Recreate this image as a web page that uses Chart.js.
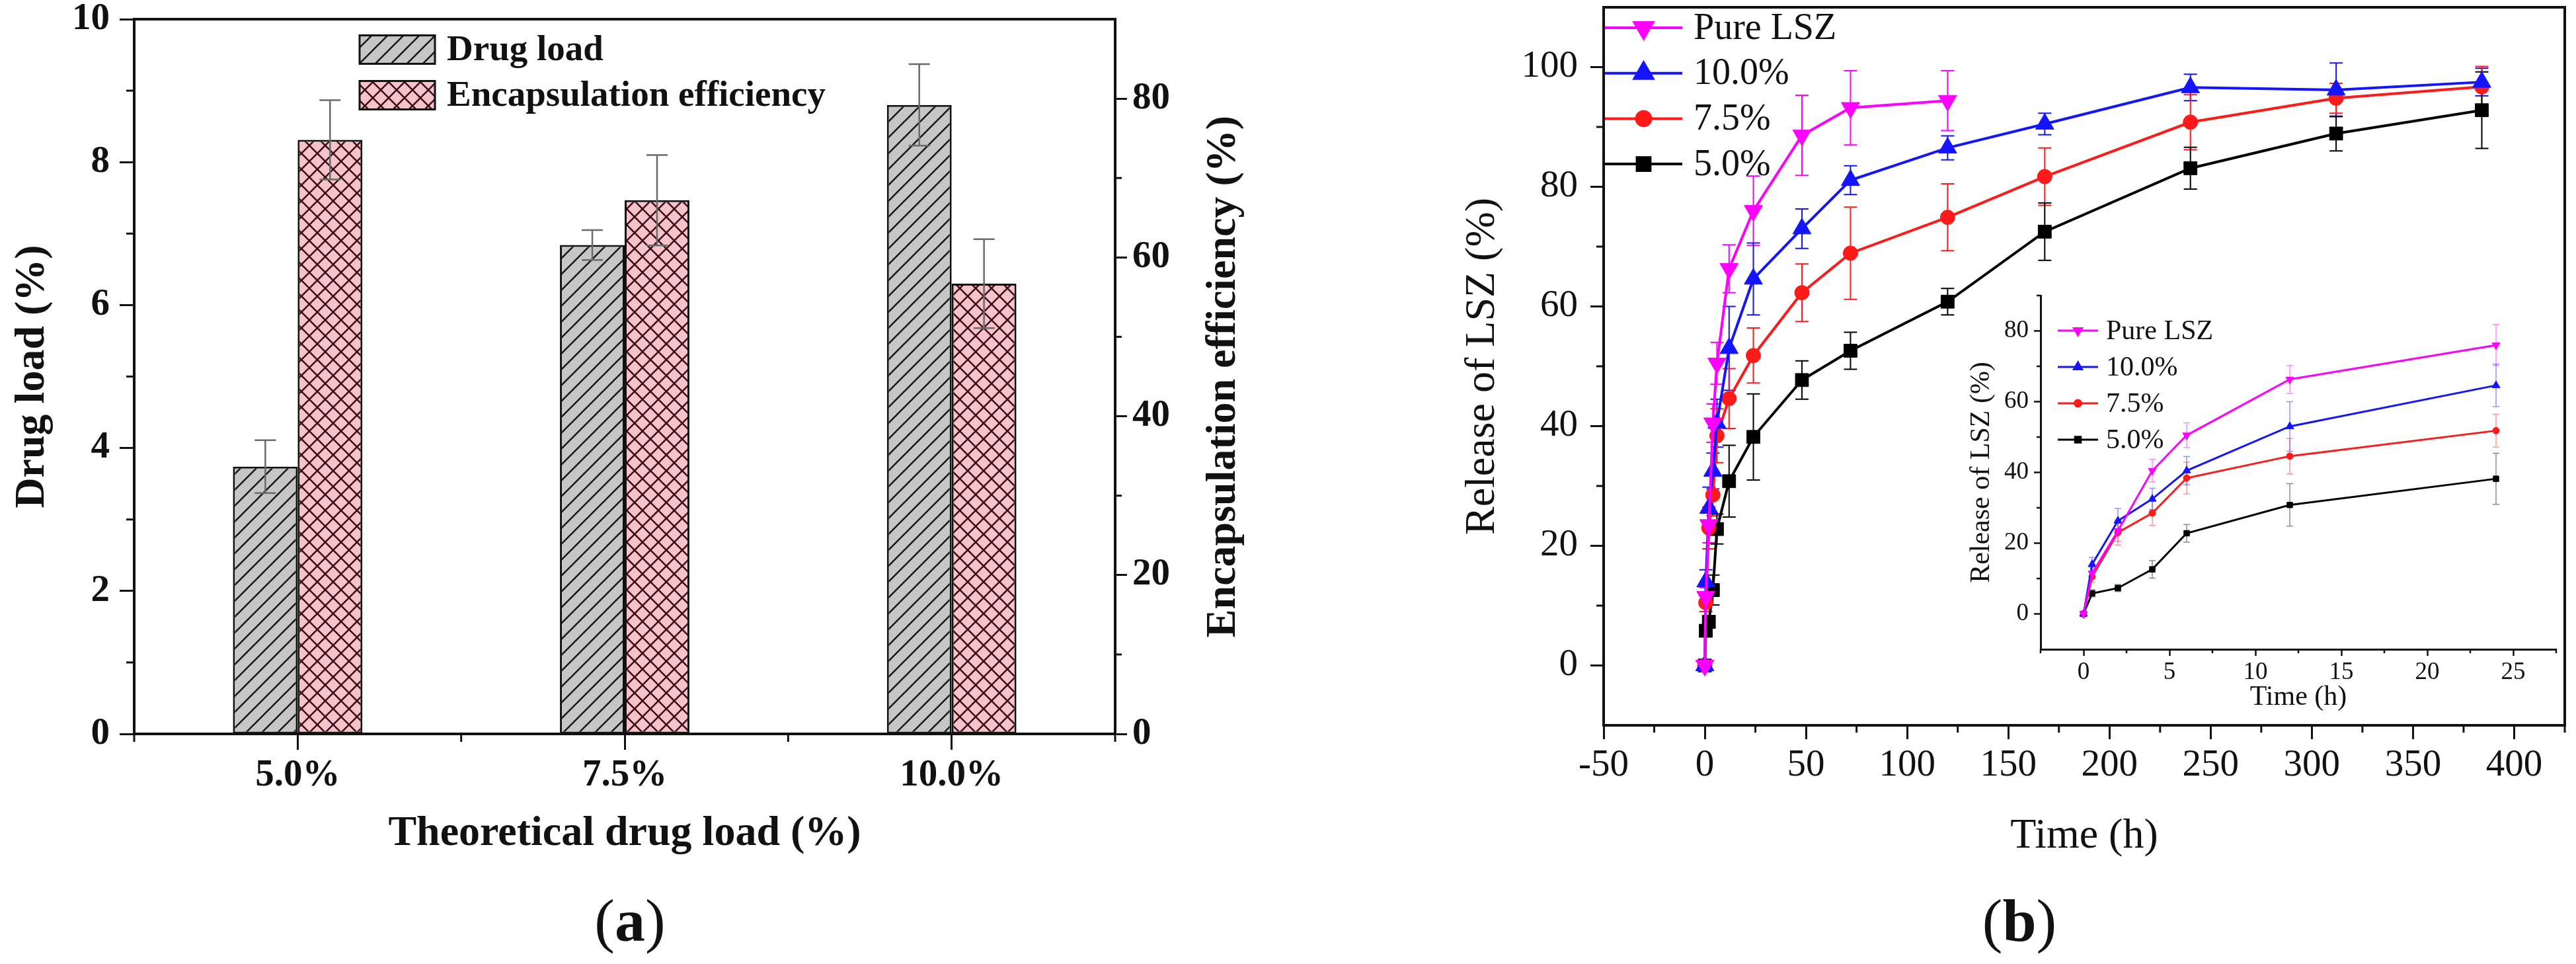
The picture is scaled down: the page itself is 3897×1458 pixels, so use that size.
<!DOCTYPE html>
<html>
<head>
<meta charset="utf-8">
<title>LSZ drug load and release</title>
<script src="https://cdn.jsdelivr.net/npm/chart.js@4.4.1/dist/chart.umd.min.js"></script>
<style>
  html, body { margin: 0; padding: 0; background: #fff; }
  body { width: 3897px; height: 1458px; position: relative; overflow: hidden; }
  canvas { position: absolute; }
  .tag { position: absolute; font-family: 'Liberation Serif', 'Times New Roman', serif; font-size: 92px;
         line-height: 1; transform: translate(-50%, -50%); color: #111; white-space: nowrap; }
</style>
</head>
<body>
<canvas id="chartA" width="1950" height="1380" style="left:0;top:-80px"></canvas>
<canvas id="chartB" width="1947" height="1410" style="left:1950px;top:-80px"></canvas>
<canvas id="chartInset" width="1000" height="700" style="left:2900px;top:380px"></canvas>
<div class="tag" style="left:953px;top:1392px">(<b>a</b>)</div>
<div class="tag" style="left:3055px;top:1392px">(<b>b</b>)</div>
<script>
/* (a) drug load and encapsulation efficiency */
const LOAD_LABELS = ['5.0%', '7.5%', '10.0%'];
const DRUG_LOAD = [3.74, 6.84, 8.80];
const DRUG_LOAD_ERR = [0.37, 0.21, 0.57];
const ENCAP_EFF = [74.8, 67.2, 56.7];
const ENCAP_EFF_ERR = [5.0, 5.7, 5.6];
const A_LOAD_TICKS = [0, 2, 4, 6, 8, 10];
const A_LOAD_MINOR = [1, 3, 5, 7, 9];
const A_EFF_TICKS = [0, 20, 40, 60, 80];
const A_EFF_MINOR = [10, 30, 50, 70];
const A_X_MINOR = [-0.5, 0.5, 1.5, 2.5];

/* (b) cumulative release of LSZ */
const TIMES = [0, 0.5, 2, 4, 6, 12, 24, 48, 72, 120, 168, 240, 312, 384];
const SERIES_LABELS = ['Pure LSZ', '10.0%', '7.5%', '5.0%'];
const PURE_LSZ = [0, 11.5, 23.5, 40.5, 50.5, 66.3, 76.0, 88.6, 93.2, 94.4];
const PURE_LSZ_ERR = [0, 1.5, 3, 3.2, 3.5, 4, 5.8, 6.7, 6.2, 5];
const LOAD_100 = [0, 14.0, 26.3, 32.5, 40.5, 53.0, 64.6, 73.0, 81.1, 86.5, 90.5, 96.6, 96.2, 97.5];
const LOAD_100_ERR = [0, 2, 3.5, 3, 4, 7, 6, 3.3, 2.4, 2, 1.8, 2.2, 4.5, 2.3];
const LOAD_75 = [0, 10.5, 23.0, 28.5, 38.4, 44.6, 51.8, 62.3, 68.9, 74.9, 81.7, 90.8, 94.8, 96.7];
const LOAD_75_ERR = [0, 1.5, 3.5, 3.5, 4.5, 5, 4.6, 4.8, 7.7, 5.6, 4.8, 4.6, 2.5, 3.4];
const LOAD_50 = [0, 5.8, 7.3, 12.6, 22.8, 30.8, 38.2, 47.7, 52.6, 60.8, 72.5, 83.1, 88.9, 92.8];
const LOAD_50_ERR = [0, 1, 1, 2.5, 2.5, 6, 7.2, 3.2, 3.1, 2.2, 4.8, 3.5, 2.9, 6.4];
const SERIES_VALUES = [PURE_LSZ, LOAD_100, LOAD_75, LOAD_50];
const SERIES_ERRORS = [PURE_LSZ_ERR, LOAD_100_ERR, LOAD_75_ERR, LOAD_50_ERR];
const B_X_TICKS = [-50, 0, 50, 100, 150, 200, 250, 300, 350, 400];
const B_X_MINOR = [-25, 25, 75, 125, 175, 225, 275, 325, 375, 425];
const B_Y_TICKS = [0, 20, 40, 60, 80, 100];
const B_Y_MINOR = [10, 30, 50, 70, 90];
const INSET_MAX_TIME = 24;
const I_X_TICKS = [0, 5, 10, 15, 20, 25];
const I_X_MINOR = [-2.5, 2.5, 7.5, 12.5, 17.5, 22.5, 27.5];
const I_Y_TICKS = [0, 20, 40, 60, 80];
const I_Y_MINOR = [10, 30, 50, 70, 90];

const SERIF = "'Liberation Serif', 'Times New Roman', serif";
const INK = '#111';
const SERIES_STYLE = [
    { color: '#ff00ff', point: 'triangle', rot: 180, r: 16, ri: 7 },
    { color: '#1414ff', point: 'triangle', rot: 0, r: 16, ri: 7 },
    { color: '#ff1a1a', point: 'circle', rot: 0, r: 11, ri: 5 },
    { color: '#000000', point: 'rect', rot: 0, r: 14, ri: 6 }
];

Chart.defaults.font.family = SERIF;
Chart.defaults.color = INK;
Chart.defaults.animation = false;

function font(size, bold) {
    return { family: SERIF, size, weight: bold ? 'bold' : 'normal', lineHeight: 1.2 };
}

function axis(o) {
    const horizontal = o.position === 'bottom';
    return {
        type: o.type || 'linear',
        position: o.position,
        min: o.min, max: o.max,
        offset: !!o.offset,
        afterFit: s => { if (horizontal) s.height = o.size; else s.width = o.size; },
        afterBuildTicks: o.ticks ? s => { s.ticks = o.ticks.map(v => ({ value: v })); } : undefined,
        border: { display: true, color: INK, width: o.lineWidth },
        grid: { display: true, drawOnChartArea: false, drawTicks: true, offset: false,
                tickLength: o.tickLength, tickWidth: o.tickWidth, tickColor: INK },
        ticks: { font: o.tickFont, color: INK, padding: o.tickPad, maxRotation: 0, autoSkip: false },
        title: { display: !!o.title, text: o.title, font: o.titleFont, color: INK, padding: o.titlePad }
    };
}

// hatch fill for the bars
function hatch(canvasId, bg, line, size, cross) {
    const tile = document.createElement('canvas');
    tile.width = tile.height = size;
    const g = tile.getContext('2d');
    g.fillStyle = bg;
    g.fillRect(0, 0, size, size);
    g.strokeStyle = line;
    g.lineWidth = 2.6;
    const seg = (x0, y0, x1, y1) => { g.beginPath(); g.moveTo(x0, y0); g.lineTo(x1, y1); g.stroke(); };
    seg(-2, size + 2, size + 2, -2);
    seg(-2, 2, 2, -2);
    seg(size - 2, size + 2, size + 2, size - 2);
    if (cross) {
        seg(-2, -2, size + 2, size + 2);
        seg(size - 2, -2, size + 2, 2);
        seg(-2, size - 2, 2, size + 2);
    }
    return document.getElementById(canvasId).getContext('2d').createPattern(tile, 'repeat');
}

// minor ticks, frame lines and a bottom-to-top right title
const axisExtras = {
    id: 'axisExtras',
    afterDraw(chart, args, opts) {
        const ctx = chart.ctx;
        const a = chart.chartArea;
        ctx.save();
        ctx.strokeStyle = INK;
        (opts.minor || []).forEach(m => {
            const s = chart.scales[m.axis];
            ctx.lineWidth = opts.tickWidth;
            m.values.forEach(v => {
                const p = s.getPixelForValue(v);
                ctx.beginPath();
                if (s.position === 'left') { ctx.moveTo(a.left, p); ctx.lineTo(a.left - m.length, p); }
                else if (s.position === 'right') { ctx.moveTo(a.right, p); ctx.lineTo(a.right + m.length, p); }
                else { ctx.moveTo(p, a.bottom); ctx.lineTo(p, a.bottom + m.length); }
                ctx.stroke();
            });
        });
        if (opts.frame) {
            const w = opts.frame.width;
            ctx.lineWidth = w;
            ctx.beginPath();
            ctx.moveTo(a.left - w / 2, a.top);
            ctx.lineTo(a.right + w / 2, a.top);
            if (opts.frame.right) {
                ctx.moveTo(a.right, a.top);
                ctx.lineTo(a.right, a.bottom + w / 2);
            }
            ctx.stroke();
        }
        if (opts.sideTitle) {
            const t = opts.sideTitle;
            ctx.translate(t.x, (a.top + a.bottom) / 2);
            ctx.rotate(-Math.PI / 2);
            ctx.fillStyle = INK;
            ctx.font = `${t.bold ? 'bold ' : ''}${t.size}px ${SERIF}`;
            ctx.textAlign = 'center';
            ctx.textBaseline = 'middle';
            ctx.fillText(t.text, 0, 0);
        }
        ctx.restore();
    }
};

function drawErrors(chart, o) {
    const ctx = chart.ctx;
    ctx.save();
    ctx.lineWidth = o.lineWidth;
    ctx.globalAlpha = o.alpha || 1;
    chart.data.datasets.forEach((ds, di) => {
        if (!ds.errors) return;
        const meta = chart.getDatasetMeta(di);
        const ys = chart.scales[meta.yAxisID];
        ctx.strokeStyle = o.color || ds.borderColor;
        meta.data.forEach((el, i) => {
            const raw = ds.data[i];
            const v = typeof raw === 'object' ? raw.y : raw;
            const e = ds.errors[i];
            if (!e) return;
            const top = ys.getPixelForValue(v + e);
            const bot = ys.getPixelForValue(v - e);
            const h = o.capWidth / 2;
            ctx.beginPath();
            ctx.moveTo(el.x, top); ctx.lineTo(el.x, bot);
            ctx.moveTo(el.x - h, top); ctx.lineTo(el.x + h, top);
            ctx.moveTo(el.x - h, bot); ctx.lineTo(el.x + h, bot);
            ctx.stroke();
        });
    });
    ctx.restore();
}

const errorBars = {
    id: 'errorBars',
    beforeDatasetsDraw(chart, args, o) { if (o.under) drawErrors(chart, o); },
    afterDatasetsDraw(chart, args, o) { if (!o.under) drawErrors(chart, o); }
};

// legend drawn inside the plot area
const innerLegend = {
    id: 'innerLegend',
    afterDraw(chart, args, o) {
        const ctx = chart.ctx;
        ctx.save();
        chart.data.datasets.forEach((ds, i) => {
            const y = o.y + i * o.rowGap;
            if (o.kind === 'box') {
                ctx.fillStyle = ds.backgroundColor;
                ctx.fillRect(o.x, y - o.boxH / 2, o.boxW, o.boxH);
                ctx.strokeStyle = ds.borderColor;
                ctx.lineWidth = ds.borderWidth;
                ctx.strokeRect(o.x, y - o.boxH / 2, o.boxW, o.boxH);
            } else {
                ctx.strokeStyle = ds.borderColor;
                ctx.lineWidth = ds.borderWidth;
                ctx.beginPath();
                ctx.moveTo(o.x, y);
                ctx.lineTo(o.x + o.lineLen, y);
                ctx.stroke();
                ctx.fillStyle = ds.pointBackgroundColor;
                ctx.strokeStyle = ds.pointBorderColor;
                Chart.helpers.drawPoint(ctx, {
                    pointStyle: ds.pointStyle, rotation: ds.pointRotation,
                    radius: ds.pointRadius, borderWidth: ds.pointBorderWidth
                }, o.x + o.lineLen / 2, y);
            }
            ctx.fillStyle = INK;
            ctx.font = `${o.bold ? 'bold ' : ''}${o.size}px ${SERIF}`;
            ctx.textAlign = 'left';
            ctx.textBaseline = 'middle';
            ctx.fillText(ds.label, o.textX, y + 2);
        });
        ctx.restore();
    }
};

/* ---------- panel (a) ---------- */
new Chart(document.getElementById('chartA'), {
    type: 'bar',
    data: {
        labels: LOAD_LABELS,
        datasets: [
            { label: 'Drug load', data: DRUG_LOAD, errors: DRUG_LOAD_ERR, yAxisID: 'y',
              backgroundColor: hatch('chartA', '#c6c6c6', '#1a1a1a', 24, false),
              borderColor: INK, borderWidth: 3, borderSkipped: false },
            { label: 'Encapsulation efficiency', data: ENCAP_EFF, errors: ENCAP_EFF_ERR, yAxisID: 'y2',
              backgroundColor: hatch('chartA', '#f6c3cb', '#3a1017', 24, true),
              borderColor: INK, borderWidth: 3, borderSkipped: false }
        ]
    },
    options: {
        responsive: false,
        devicePixelRatio: 1,
        layout: { padding: { top: 109, left: 0, right: 0, bottom: 0 } },
        datasets: { bar: { categoryPercentage: 0.396, barPercentage: 1 } },
        scales: {
            x: axis({ type: 'category', position: 'bottom', offset: true, size: 190, lineWidth: 4,
                      tickLength: 24, tickWidth: 3, tickPad: 5, tickFont: font(57, true),
                      title: 'Theoretical drug load (%)', titleFont: font(64, true), titlePad: { top: 0, bottom: 0 } }),
            y: axis({ position: 'left', min: 0, max: 10, ticks: A_LOAD_TICKS, size: 203, lineWidth: 4,
                      tickLength: 22, tickWidth: 3, tickPad: 15, tickFont: font(57, true),
                      title: 'Drug load (%)', titleFont: font(64, true), titlePad: { top: 11, bottom: 0 } }),
            y2: axis({ position: 'right', min: 0, max: 90, ticks: A_EFF_TICKS, size: 263, lineWidth: 4,
                       tickLength: 18, tickWidth: 3, tickPad: 8, tickFont: font(57, true) })
        },
        plugins: {
            legend: { display: false },
            tooltip: { enabled: false },
            errorBars: { lineWidth: 2.5, capWidth: 32, color: '#6a6a6a', under: false },
            axisExtras: {
                tickWidth: 3,
                minor: [
                    { axis: 'y', values: A_LOAD_MINOR, length: 12 },
                    { axis: 'y2', values: A_EFF_MINOR, length: 10 },
                    { axis: 'x', values: A_X_MINOR, length: 12 }
                ],
                frame: { width: 4, right: false },
                sideTitle: { text: 'Encapsulation efficiency (%)', x: 1851, size: 64, bold: true }
            },
            innerLegend: { kind: 'box', x: 544, y: 155, rowGap: 69, boxW: 114, boxH: 43,
                           textX: 676, size: 55, bold: true }
        }
    },
    plugins: [errorBars, axisExtras, innerLegend]
});

/* ---------- panel (b) ---------- */
function releaseDatasets(maxTime, big) {
    return SERIES_LABELS.map((label, k) => {
        const st = SERIES_STYLE[k];
        const pts = [], errs = [];
        SERIES_VALUES[k].forEach((v, i) => {
            if (TIMES[i] <= maxTime) { pts.push({ x: TIMES[i], y: v }); errs.push(SERIES_ERRORS[k][i]); }
        });
        return {
            label, data: pts, errors: errs,
            borderColor: st.color, backgroundColor: st.color,
            pointBackgroundColor: st.color, pointBorderColor: st.color,
            pointStyle: st.point, pointRotation: st.rot,
            pointRadius: big ? st.r : st.ri, pointBorderWidth: 1,
            borderWidth: big ? 4 : 3, tension: 0, fill: false
        };
    });
}

new Chart(document.getElementById('chartB'), {
    type: 'line',
    data: { datasets: releaseDatasets(Infinity, true) },
    options: {
        responsive: false,
        devicePixelRatio: 1,
        layout: { padding: { top: 91, left: 0, right: 13, bottom: 0 } },
        scales: {
            x: axis({ position: 'bottom', min: -50, max: 425, ticks: B_X_TICKS, size: 233, lineWidth: 4,
                      tickLength: 21, tickWidth: 3, tickPad: 6, tickFont: font(57),
                      title: 'Time (h)', titleFont: font(64), titlePad: { top: 0, bottom: 26 } }),
            y: axis({ position: 'left', min: -10, max: 110, ticks: B_Y_TICKS, size: 476, lineWidth: 4,
                      tickLength: 20, tickWidth: 3, tickPad: 19, tickFont: font(57),
                      title: 'Release of LSZ (%)', titleFont: font(64), titlePad: { top: 255, bottom: 0 } })
        },
        plugins: {
            legend: { display: false },
            tooltip: { enabled: false },
            errorBars: { lineWidth: 2, capWidth: 20, under: true },
            axisExtras: {
                tickWidth: 3,
                minor: [
                    { axis: 'y', values: B_Y_MINOR, length: 11 },
                    { axis: 'x', values: B_X_MINOR, length: 11 }
                ],
                frame: { width: 4, right: true }
            },
            innerLegend: { kind: 'line', x: 478, y: 122, rowGap: 68.7, lineLen: 117,
                           textX: 612, size: 56, bold: false }
        }
    },
    plugins: [errorBars, axisExtras, innerLegend]
});

/* ---------- inset: first 24 h ---------- */
new Chart(document.getElementById('chartInset'), {
    type: 'line',
    data: { datasets: releaseDatasets(INSET_MAX_TIME, false) },
    options: {
        responsive: false,
        devicePixelRatio: 1,
        layout: { padding: { top: 67, left: 0, right: 33, bottom: 0 } },
        scales: {
            x: axis({ position: 'bottom', min: -2.5, max: 27.5, ticks: I_X_TICKS, size: 98, lineWidth: 3,
                      tickLength: 10, tickWidth: 2.5, tickPad: 3, tickFont: font(37),
                      title: 'Time (h)', titleFont: font(42), titlePad: { top: 0, bottom: 0 } }),
            y: axis({ position: 'left', min: -10, max: 90, ticks: I_Y_TICKS, size: 187, lineWidth: 3,
                      tickLength: 10, tickWidth: 2.5, tickPad: 8, tickFont: font(37),
                      title: 'Release of LSZ (%)', titleFont: font(42), titlePad: { top: 73, bottom: 0 } })
        },
        plugins: {
            legend: { display: false },
            tooltip: { enabled: false },
            errorBars: { lineWidth: 1.5, capWidth: 10, alpha: 0.45, under: true },
            axisExtras: {
                tickWidth: 2.5,
                minor: [
                    { axis: 'y', values: I_Y_MINOR, length: 6 },
                    { axis: 'x', values: I_X_MINOR, length: 6 }
                ]
            },
            innerLegend: { kind: 'line', x: 213, y: 120, rowGap: 55, lineLen: 61,
                           textX: 286, size: 42, bold: false }
        }
    },
    plugins: [errorBars, axisExtras, innerLegend]
});
</script>
</body>
</html>
